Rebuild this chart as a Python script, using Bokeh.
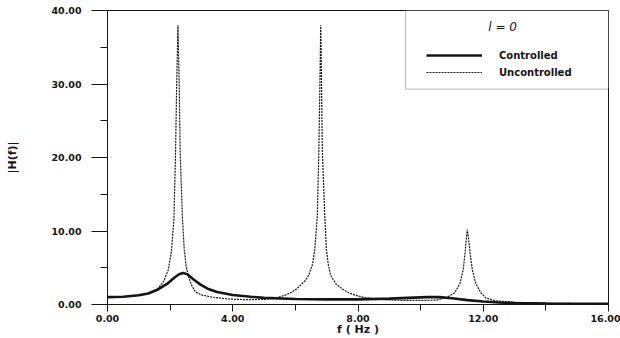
from bokeh.plotting import figure
from bokeh.models import (NumeralTickFormatter, FixedTicker, Legend, LegendItem,
                          BoxAnnotation, Label)
from bokeh.embed import file_html
from bokeh.resources import INLINE

# ---- data ----
f_unc = [0.0, 0.5, 1.0, 1.3, 1.5, 1.64, 1.8, 1.94, 2.04, 2.12, 2.17, 2.21, 2.25, 2.29,
         2.32, 2.39, 2.45, 2.52, 2.6, 2.7, 2.81, 3.0, 3.34, 3.7, 4.0, 4.5, 5.0, 5.4,
         5.69, 5.9, 6.06, 6.3, 6.43, 6.55, 6.62, 6.7, 6.75, 6.79, 6.81, 6.83, 6.86,
         6.94, 6.99, 7.05, 7.12, 7.3, 7.5, 7.7, 7.92, 8.2, 8.6, 9.0, 9.5, 10.0, 10.5,
         10.8, 11.09, 11.26, 11.36, 11.42, 11.46, 11.49, 11.53, 11.58, 11.65, 11.76,
         11.92, 12.08, 12.4, 13.0, 14.0, 15.0, 16.0]
h_unc = [1.0, 1.05, 1.25, 1.5, 1.8, 2.3, 3.2, 4.7, 7.2, 11.5, 20.0, 30.0, 38.0, 30.0,
         21.0, 12.0, 7.5, 5.0, 3.6, 2.5, 1.7, 1.3, 1.0, 0.82, 0.72, 0.65, 0.7, 0.9,
         1.3, 1.7, 2.2, 3.2, 4.0, 5.5, 7.5, 12.0, 21.0, 32.0, 38.0, 32.0, 21.0,
         12.0, 7.5, 5.5, 4.0, 2.8, 2.1, 1.6, 1.25, 0.95, 0.75, 0.62, 0.55, 0.55, 0.6,
         0.9, 1.6, 2.9, 4.75, 7.0, 9.0, 10.2, 9.0, 7.0, 4.75, 2.9,
         1.6, 0.9, 0.5, 0.3, 0.18, 0.13, 0.1]

f_ctl = [0.0, 0.5, 1.0, 1.3, 1.59, 1.9, 2.15, 2.3, 2.42, 2.55, 2.75, 2.97, 3.2, 3.5,
         4.0, 4.57, 5.0, 6.0, 7.0, 8.0, 9.0, 9.6, 10.2, 10.6, 11.0, 11.5, 12.0, 12.5,
         13.0, 14.0, 15.0, 16.0]
h_ctl = [1.0, 1.05, 1.25, 1.5, 2.0, 2.8, 3.7, 4.15, 4.3, 4.1, 3.4, 2.7, 2.15, 1.7,
         1.3, 1.05, 0.9, 0.75, 0.7, 0.7, 0.8, 0.9, 1.0, 1.0, 0.85, 0.6, 0.4, 0.27,
         0.2, 0.14, 0.1, 0.1]

x_ticks = [0, 4, 8, 12, 16]
x_minor = [2, 6, 10, 14]
y_ticks = [0, 10, 20, 30, 40]
y_minor = [5, 15, 25, 35]

FONT = "DejaVu Sans"
INK = "#151515"

p = figure(width=620, height=338, output_backend="svg", toolbar_location=None,
           x_range=(0, 16), y_range=(0, 40),
           min_border_left=107, min_border_right=12, min_border_top=10,
           min_border_bottom=33)
p.grid.visible = False
p.outline_line_color = INK
p.outline_line_width = 1
p.background_fill_color = "white"
p.border_fill_color = "white"

unc = p.line(f_unc, h_unc, line_color=INK, line_width=1.2, line_dash="2 1")
ctl = p.line(f_ctl, h_ctl, line_color=INK, line_width=2.6)

# axes
xa = p.xaxis[0]
xa.ticker = FixedTicker(ticks=x_ticks, minor_ticks=x_minor)
xa.formatter = NumeralTickFormatter(format="0.00")
xa.major_tick_out = 7
xa.major_tick_in = 0
xa.minor_tick_out = 6
xa.minor_tick_in = 0
xa.major_label_standoff = 3
xa.axis_label = "f ( Hz )"
xa.axis_label_standoff = -2

ya = p.yaxis[0]
ya.ticker = FixedTicker(ticks=y_ticks, minor_ticks=y_minor)
ya.formatter = NumeralTickFormatter(format="0.00")
ya.major_tick_out = 16
ya.major_tick_in = 0
ya.minor_tick_out = 7
ya.minor_tick_in = 0
ya.major_label_standoff = 10
ya.axis_label = "|H(f)|"
ya.axis_label_standoff = 29

for ax in (xa, ya):
    ax.axis_line_color = INK
    ax.major_tick_line_color = INK
    ax.minor_tick_line_color = INK
    ax.major_label_text_font = FONT
    ax.major_label_text_font_style = "bold"
    ax.major_label_text_font_size = "9.5px"
    ax.major_label_text_color = INK
    ax.axis_label_text_font = FONT
    ax.axis_label_text_font_style = "bold"
    ax.axis_label_text_font_size = "11px"
    ax.axis_label_text_color = INK

# legend frame
box = BoxAnnotation(left=9.52, right=16, bottom=29.3, top=40,
                    fill_color="white", fill_alpha=1.0,
                    line_color=INK, line_width=1, level="overlay")
p.add_layout(box)

p.add_layout(Label(x=12.62, y=37.8, text="l = 0", text_font=FONT,
                   text_font_style="italic", text_font_size="12px",
                   text_color=INK, text_align="center", text_baseline="middle",
                   level="overlay"))

legend = Legend(items=[LegendItem(label="Controlled", renderers=[ctl]),
                       LegendItem(label="Uncontrolled", renderers=[unc])],
                location=(319, 225), padding=0, spacing=3, margin=0,
                glyph_width=56, glyph_height=14, label_standoff=17,
                border_line_alpha=0, background_fill_alpha=0,
                label_text_font=FONT, label_text_font_style="bold",
                label_text_font_size="10px", label_text_color=INK)
p.add_layout(legend)

open("out.html", "w").write(file_html(p, INLINE))
